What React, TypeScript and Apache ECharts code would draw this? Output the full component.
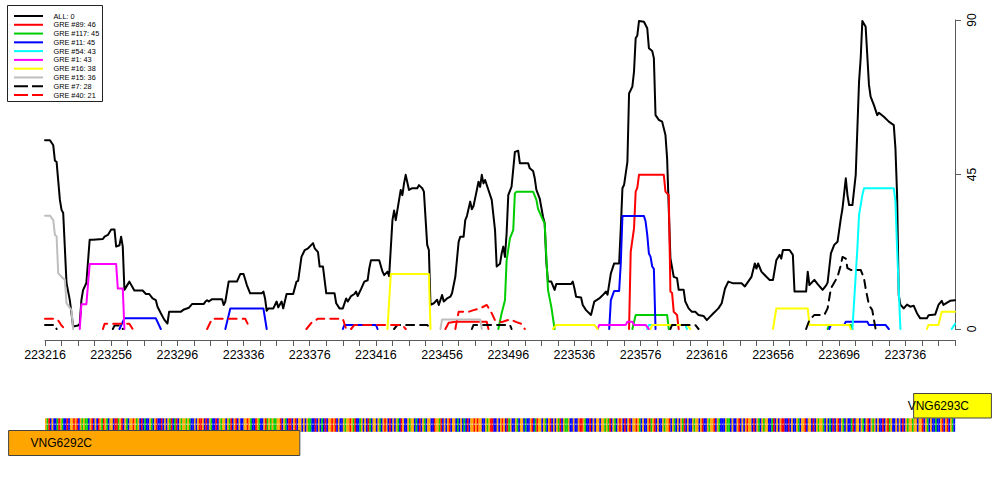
import React, { useEffect, useRef } from "react";
import * as echarts from "echarts";

// genomic window shown on the x axis
const WINDOW_START = 223216;
const WINDOW_END = 223766;
const xTickLabels = [223216, 223256, 223296, 223336, 223376, 223416, 223456, 223496, 223536, 223576, 223616, 223656, 223696, 223736];
const yTickValues = [0, 45, 90];

const seriesNames = ["ALL: 0", "GRE #89: 46", "GRE #117: 45", "GRE #11: 45", "GRE #54: 43", "GRE #1: 43", "GRE #16: 38", "GRE #15: 36", "GRE #7: 28", "GRE #40: 21"];

// each series: list of segments, each segment a list of [bp offset from WINDOW_START, value]
const allTrack = [[
  [0, 55], [3, 55], [5, 53.5], [6, 49], [7, 48.7], [9, 37.6], [10, 34.7], [11, 33.8], [13, 13.4], [15, 8.4], [17, 0.7], [20, 1], [21, 1.5],
  [22, 8.4], [23, 11.3], [25, 13.4], [27, 26], [29, 26], [35, 26.2], [36, 26.9], [38, 27.4], [40, 29], [42, 29], [43, 24], [45, 24.4], [46, 26.9],
  [47, 24], [48, 11.4], [51, 13.8], [54, 11.2], [59, 11.2], [61, 10.2], [63, 10.2], [65, 8.9], [67, 8.4], [68, 6.5], [70, 4.6], [72, 2.8], [74, 1.6],
  [75, 5], [82, 5], [84, 5.7], [87, 6.2], [89, 7.3], [96, 7.3], [97, 8], [98, 8.4], [99, 8], [101, 8.7], [107, 8.7], [108, 7], [109, 8], [111, 13.8],
  [116, 13.8], [118, 16], [120, 16], [122, 12.8], [124, 10.4], [131, 10.4], [132, 10.9], [133, 8.9], [134, 5.3], [135, 6], [138, 6], [140, 8], [141, 6.3],
  [143, 8], [144, 6], [146, 10.2], [150, 10.2], [152, 13.8], [153, 14], [155, 21], [157, 23], [159, 23.5], [161, 24.5], [162, 25], [163, 23.5],
  [165, 22.4], [166, 18.2], [168, 18.2], [170, 10.4], [175, 10.4], [176, 7.5], [178, 6], [180, 6], [182, 8.9], [183, 8], [185, 9.6], [187, 10.2],
  [188, 10.9], [189, 9.6], [191, 11.6], [193, 13.8], [195, 14.2], [196, 17.7], [197, 20], [202, 20], [204, 16.7], [205, 15.7], [207, 16.7], [208, 15.4],
  [210, 31.7], [211, 34.5], [212, 31.7], [214, 37.6], [215, 40.5], [216, 39], [217, 42.4], [218, 44.9], [220, 40.5], [222, 41], [225, 41], [226, 41.9],
  [228, 41], [229, 40], [231, 24.5], [232, 23], [233, 7], [235, 7.5], [237, 8.5], [238, 7], [240, 9.9], [241, 8], [243, 8.9], [245, 9.4], [246, 10.4],
  [248, 15.2], [250, 25.4], [251, 26.9], [253, 26.9], [254, 31.7], [255, 32.9], [257, 37.1], [258, 34.9], [259, 35.8], [261, 40.5], [262, 42.9],
  [263, 41.4], [264, 44.9], [265, 42.4], [266, 43.4], [268, 40.5], [270, 37.6], [272, 28.8], [273, 18.2], [275, 19], [276, 22], [277, 24], [278, 21],
  [279, 27.9], [280, 39], [282, 41.5], [284, 51.6], [286, 51.9], [287, 48.3], [292, 48.3], [293, 46.8], [295, 46], [296, 43.9], [297, 40.5], [299, 38],
  [301, 32.7], [302, 30.8], [303, 19.6], [304, 13.8], [306, 13.8], [308, 11.4], [309, 13.1], [318, 13.1], [319, 13.8], [320, 11.8], [321, 9.4],
  [324, 9.2], [325, 7], [327, 5.5], [330, 4.1], [332, 8], [335, 8.9], [337, 9.8], [339, 10.9], [340, 10], [342, 16.2], [344, 19.1], [347, 19.1],
  [348, 29.3], [349, 41], [350, 42], [352, 48.7], [353, 68.6], [355, 70.6], [356, 75], [357, 84.7], [358, 85.5], [359, 89.7], [362, 89.5], [364, 87.6],
  [365, 81.8], [367, 81], [368, 78.9], [369, 62.3], [371, 60.9], [373, 60.4], [375, 56.5], [376, 49.7], [378, 20.6], [380, 15.2], [382, 14.8],
  [383, 11.4], [386, 11.4], [387, 8], [389, 6], [391, 5], [393, 5], [395, 4.1], [398, 3.8], [400, 2.6], [402, 3.6], [404, 4.6], [407, 6], [409, 7.5],
  [411, 11.8], [413, 13.8], [416, 13.3], [421, 13.3], [423, 12.4], [425, 13.8], [427, 15.2], [429, 19.1], [430, 17.6], [431, 19.1], [433, 16.7],
  [436, 15.2], [438, 14.3], [440, 14.3], [442, 20], [444, 21.6], [445, 20.5], [446, 23], [450, 23], [452, 21.6], [453, 10.9], [460, 10.9], [461, 16.7],
  [462, 12.8], [465, 14.3], [467, 13.1], [470, 11.4], [472, 12.6], [473, 13.5], [475, 22], [477, 24.5], [479, 25.4], [481, 32.2], [482, 35.1],
  [484, 43.9], [485, 39], [486, 36.1], [488, 36.1], [490, 44.9], [492, 72], [493, 78.9], [494, 89.7], [496, 88], [498, 71.1], [499, 67.7], [501, 65.2],
  [503, 62.3], [504, 63], [507, 61.8], [510, 60.4], [513, 59.4], [514, 52.6], [515, 39], [516, 9.9], [517, 7.1], [519, 6], [521, 7.1], [523, 6.5],
  [525, 6.8], [527, 4.6], [529, 3.1], [533, 3.1], [534, 4], [538, 4.2], [540, 7], [542, 8.2], [543, 7], [545, 7.6], [547, 8.2], [550, 8.4],
]];

const gre89 = [
  [[242, 0], [244, 1.8], [248, 2.1], [267, 2.1], [268, 0]],
  [[353, 0], [354, 22.5], [356, 29.3], [357, 40], [358, 41.2], [359, 44.9], [374, 44.9], [375, 40], [377, 39], [378, 10.9], [379, 10.5], [380, 5], [382, 4.1], [383, 0]],
];
const gre117 = [
  [[274, 0], [276, 4.6], [278, 8.4], [279, 20], [281, 26.4], [283, 28.8], [284, 39.5], [285, 40], [295, 40], [297, 37.6], [298, 35], [301, 31.7], [302, 30.8], [304, 11.4], [306, 6.5], [308, 0]],
  [[355, 0], [357, 4.1], [376, 4.1], [377, 0]],
  [[473, 0], [474, 1.2], [487, 1.2], [488, 0]],
];
const gre11 = [
  [[45, 0], [48, 3.1], [67, 3.1], [70, 0]],
  [[109, 0], [112, 6], [132, 6], [134, 0]],
  [[180, 0], [181, 1.2], [200, 1.2], [201, 0]],
  [[341, 0], [342, 8.4], [344, 11.1], [347, 11.1], [348, 19.1], [349, 32.9], [362, 32.9], [363, 31.3], [364, 27.4], [365, 22], [366, 21], [367, 18.2], [368, 17.5], [369, 0]],
  [[474, 0], [475, 1.2], [483, 1.2], [484, 2.1], [497, 2.1], [498, 1.2], [508, 1.2], [510, 0]],
];
const gre54 = [
  [[364, 0], [365, 1.2], [387, 1.2], [388, 0]],
  [[488, 0], [491, 23.5], [492, 33.2], [494, 39], [495, 41], [513, 41], [514, 37.1], [515, 23.5], [517, 0]],
  [[548, 0], [550, 1.5]],
];
const gre1 = [
  [[21, 0], [22, 7.2], [25, 7.2], [27, 18.9], [43, 18.9], [44, 11.8], [47, 11.8], [48, 0]],
  [[334, 0], [335, 1.2], [351, 1.2], [352, 2.1], [355, 2.1], [356, 1.2], [363, 1.2], [365, 0]],
];
const gre16 = [
  [[207, 0], [209, 16], [232, 16], [233, 0]],
  [[307, 0], [309, 1.2], [332, 1.2], [334, 0]],
  [[366, 0], [367, 1.2], [388, 1.2], [390, 0]],
  [[440, 0], [442, 6], [461, 6], [462, 1.2], [486, 1.2], [487, 0]],
  [[533, 0], [534, 1.2], [540, 1.2], [542, 5], [550, 5]],
];
const gre15 = [
  [[0, 33], [3, 33], [5, 31.7], [6, 27.4], [7, 27], [8, 16.2], [10, 15.2], [12, 14.3], [13, 7.5], [16, 5.5], [17, 0]],
  [[239, 0], [240, 2.8], [263, 2.8], [264, 0]],
];
const gre7 = [
  [[0, 1.2], [6, 1.2], [7, 0]],
  [[41, 0], [42, 1], [46, 1], [47, 0]],
  [[211, 0], [213, 1.2], [231, 1.2], [233, 0]],
  [[258, 0], [259, 1.2], [281, 1.2], [282, 0]],
  [[378, 0], [379, 1.2], [393, 1.2], [395, 0]],
  [[460, 0], [462, 2.6], [465, 4.1], [471, 4.1], [473, 6], [475, 11.8], [479, 15.2], [481, 18.6], [482, 21], [484, 20.5], [485, 17.7], [487, 17.2], [493, 17.2], [495, 14.8], [496, 11.8], [498, 7], [500, 5.5], [502, 0]],
];
const gre40 = [
  [[0, 3], [6, 3], [8, 2.5], [10, 1], [12, 0]],
  [[35, 0], [36, 1.5], [51, 1.5], [53, 0]],
  [[98, 0], [101, 3], [121, 3], [124, 0]],
  [[158, 0], [161, 1.8], [165, 3], [180, 3], [182, 0]],
  [[185, 0], [187, 1.2], [216, 1.2], [218, 0]],
  [[248, 0], [250, 5], [256, 5], [259, 5.5], [263, 6], [267, 7], [270, 4.6], [272, 2.5], [276, 2], [281, 2.8], [285, 2], [288, 1.5], [290, 0]],
];
const seriesData = [allTrack, gre89, gre117, gre11, gre54, gre1, gre16, gre15, gre7, gre40];

// styles
const seriesColors = ["#000000", "#FF0000", "#00CD00", "#0000FF", "#00FFFF", "#FF00FF", "#FFFF00", "#BEBEBE", "#000000", "#FF0000"];
const seriesDashed = [false, false, false, false, false, false, false, false, true, true];

// genes
const geneNames = ["VNG6292C", "VNG6293C"];
const geneStarts = [223194, 223741];
const geneEnds = [223370, 223788];
const geneLanes = [0, 1];
const geneColors = ["#FFA500", "#FFFF00"];

// DNA sequence of the window (one base per bp)
const sequence =
  "GATCGCCATGACCTCGGTGTCGAGAACGTCGCTGATGACGGCTTAGTCGA" +
  "CGGTGAGCTCACCGACGTCCTCGCGATCATCGAGGAGACCGCGTTGCTCG" +
  "ACCTCGAGGCGATCGTCGCCGGTGACCTGACCGTAGAGAAGGTCGACTTC" +
  "GTCGGCGCGAACCTCGCACTCGGTGTCGCCGAGGTGATCCAGCGCTACGG" +
  "CGACGTGCTCGCGACTGCCGAGGCACTCGACGGCCTGGATCGCGTCGGCA" +
  "CGCACTCGGTGTGGCCGAGTTCCGCGTGCTAGCCGACGGCACCGTCATGG" +
  "CGACGTCGCGATCGAAGCCGCCGTTGACCTCGCGGCGGAGATCGACGTGC" +
  "TCGTCGGTGACGCCGTAGTCGCCGAGGTCGACGCGATCGCCGAGGCGTCC" +
  "GAGGTCGACCCGAACGCCGTCGCGTGGCTCGACGAGGCCATCGCGTTCCT" +
  "CGCCGACGGTCGGCTCGAGGACGCACTCGTCGACGCCATCGGCGACGTCG" +
  "AGCGCCTCGTAGCCGCGCTCGAGGAGGCGGTCGACGCCACCGTCGTCGAC";
const baseLetters = "ACGT";
const baseColors = ["#00CD00", "#0000FF", "#FFA500", "#FF0000"];

const FONT = '"Liberation Sans", Arial, Helvetica, sans-serif';
const AXIS_GRAY = "#5a5a5a";

function toLineData(segs: number[][][]) {
  const out: any[] = [];
  segs.forEach((seg, k) => {
    if (k > 0) out.push([WINDOW_START + seg[0][0] - 0.5, null]);
    seg.forEach((p) => out.push([WINDOW_START + p[0], p[1]]));
  });
  return out;
}

export default function App() {
  const ref = useRef<HTMLDivElement>(null);
  useEffect(() => {
    if (!ref.current) return;
    const chart = echarts.init(ref.current, null, { renderer: "svg" });

    const tickValues: number[] = [];
    for (let v = WINDOW_START; v <= WINDOW_END; v += 10) tickValues.push(v);

    const lineSeries = seriesNames.map((name, i) => ({
      name,
      type: "line",
      data: toLineData(seriesData[i]),
      showSymbol: false,
      symbol: "none",
      connectNulls: false,
      z: 3 + i,
      lineStyle: {
        color: seriesColors[i],
        width: 2,
        type: seriesDashed[i] ? [8, 6] : "solid",
        cap: "round",
        join: "round",
      },
    }));

    const seqData = sequence.split("").map((ch, i) => [WINDOW_START + i, baseLetters.indexOf(ch)]);
    const geneData = geneNames.map((n, i) => [geneStarts[i], geneEnds[i], geneLanes[i], i]);

    const legendRowY = (i: number) => 16 + i * 8.78;
    const legendGraphics: any[] = [
      { type: "rect", shape: { x: 7.5, y: 5.5, width: 95, height: 96 }, style: { fill: "#fff", stroke: "#222", lineWidth: 1 }, z: 100 },
    ];
    seriesNames.forEach((n, i) => {
      legendGraphics.push({
        type: "line",
        shape: { x1: 14, y1: legendRowY(i), x2: 43, y2: legendRowY(i) },
        style: { stroke: seriesColors[i], lineWidth: 2, lineDash: seriesDashed[i] ? [14, 4] : null },
        z: 101,
      });
      legendGraphics.push({
        type: "text",
        x: 53.5,
        y: legendRowY(i),
        style: { text: n, fill: "#000", font: `7.3px ${FONT}`, verticalAlign: "middle", align: "left" },
        z: 101,
      });
    });

    chart.setOption({
      animation: false,
      backgroundColor: "#fff",
      textStyle: { fontFamily: FONT },
      grid: { left: 45, right: 45, top: 20, bottom: 171, containLabel: false },
      xAxis: {
        type: "value",
        min: WINDOW_START,
        max: WINDOW_END,
        offset: 11,
        splitLine: { show: false },
        axisLine: { show: true, onZero: false, lineStyle: { color: AXIS_GRAY, width: 1 } },
        axisTick: { show: true, length: 6, customValues: tickValues, lineStyle: { color: AXIS_GRAY, width: 1 } },
        axisLabel: { customValues: xTickLabels, color: "#000", fontSize: 12.5, margin: 8, formatter: (v: number) => String(v) },
      },
      yAxis: {
        type: "value",
        position: "right",
        min: 0,
        max: 90,
        interval: 45,
        splitLine: { show: false },
        axisLine: { show: true, onZero: false, lineStyle: { color: AXIS_GRAY, width: 1 } },
        axisTick: { show: true, length: 6, lineStyle: { color: AXIS_GRAY, width: 1 } },
        axisLabel: { rotate: 90, color: "#000", fontSize: 12, margin: 11, customValues: yTickValues, formatter: (v: number) => String(v) },
      },
      graphic: legendGraphics,
      series: [
        ...lineSeries,
        {
          type: "custom",
          name: "sequence",
          clip: false,
          silent: true,
          z: 1,
          data: seqData,
          renderItem: (params: any, api: any) => {
            const x0 = api.coord([api.value(0), 0])[0];
            const x1 = api.coord([api.value(0) + 1, 0])[0];
            const b = api.value(1);
            const w = x1 - x0;
            return {
              type: "group",
              children: [
                { type: "rect", shape: { x: x0, y: 418.3, width: w + 0.15, height: 13.5 }, style: { fill: baseColors[b] } },
                { type: "rect", shape: { x: x0 + w * 0.3, y: 423.6, width: w * 0.4, height: 1.4 }, style: { fill: "#ffffff", opacity: 0.85 } },
              ],
            };
          },
        },
        {
          type: "custom",
          name: "genes",
          clip: false,
          silent: true,
          z: 2,
          data: geneData,
          renderItem: (params: any, api: any) => {
            const xs = api.coord([api.value(0), 0])[0];
            const xe = api.coord([api.value(1), 0])[0];
            const lane = api.value(2);
            const gi = api.value(3);
            const y = lane === 0 ? 430.5 : 393.5;
            const h = lane === 0 ? 25 : 24.5;
            const tx = lane === 0 ? xs + 22 : xs - 6;
            return {
              type: "group",
              children: [
                { type: "rect", shape: { x: xs, y, width: xe - xs, height: h }, style: { fill: geneColors[gi], stroke: "#444", lineWidth: 1 } },
                { type: "text", x: tx, y: y + h / 2, style: { text: geneNames[gi], fill: "#000", font: `12px ${FONT}`, verticalAlign: "middle", align: "left" } },
              ],
            };
          },
        },
      ],
    });
    return () => chart.dispose();
  }, []);
  return <div ref={ref} style={{ position: "absolute", left: 0, top: 0, width: 1000, height: 500 }} />;
}
